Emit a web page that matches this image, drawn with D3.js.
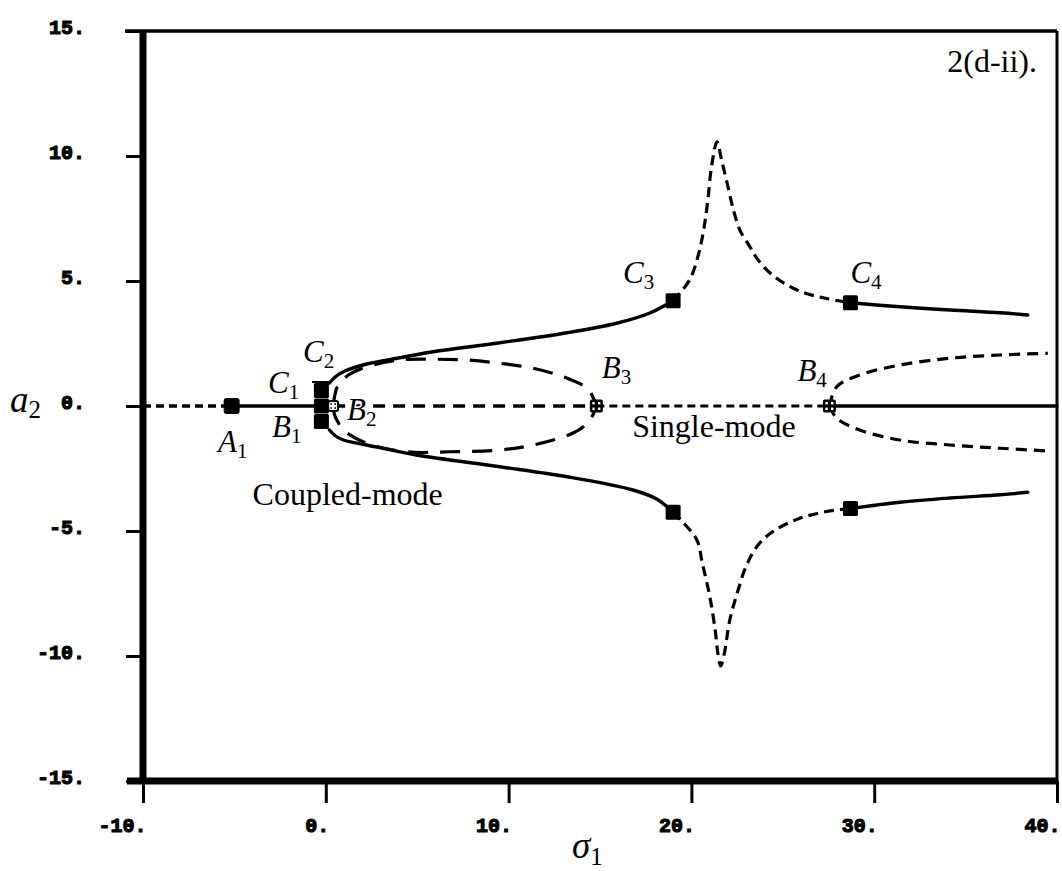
<!DOCTYPE html>
<html>
<head>
<meta charset="utf-8">
<script src="https://cdn.jsdelivr.net/npm/d3@7"></script>
<style>
  html, body { margin: 0; padding: 0; background: #fff; }
  svg { display: block; }
</style>
</head>
<body>
<svg id="chart" width="1062" height="871"></svg>
<script>
// ---- axis ticks ----
const sigmaTicks = [-10, 0, 10, 20, 30, 40];
const a2Ticks = [-15, -10, -5, 0, 5, 10, 15];

// ---- trivial branch a2 = 0, split at its bifurcation points [sigma1, a2] ----
const zeroLeftUnstable  = [[-10, 0], [-5.15, 0]];
const zeroStable        = [[-5.15, 0], [-0.24, 0]];
const zeroInnerUnstable = [[0.4, 0], [14.8, 0]];
const zeroOuterUnstable = [[14.8, 0], [27.55, 0]];
const zeroRightStable   = [[27.55, 0], [40, 0]];

// ---- coupled-mode branches ----
const upperStable = [[0.2, 0.92], [0.5, 1.15], [0.96, 1.37], [2.24, 1.68], [4.06, 1.93], [5.88, 2.17],
  [9.53, 2.53], [13.2, 2.93], [15.9, 3.31], [17.7, 3.71], [19.0, 4.21]];
const upperUnstable = [[19.0, 4.21], [19.9, 5.04], [20.4, 6.1], [20.7, 7.17], [20.9, 8.24], [21.1, 9.57],
  [21.4, 10.57], [21.65, 9.84], [22.0, 8.77], [22.3, 7.84], [22.65, 7.04], [23.2, 6.37], [23.65, 5.84],
  [24.5, 5.2], [25.9, 4.6], [27.4, 4.3], [28.7, 4.13]];
const upperRightStable = [[28.7, 4.13], [31.4, 3.97], [34.15, 3.84], [36.9, 3.73], [38.4, 3.64]];

const lowerStable = [[0.2, -0.96], [0.5, -1.18], [0.96, -1.36], [2.24, -1.56], [4.97, -1.96], [9.53, -2.43],
  [13.2, -2.83], [16.8, -3.36], [18.1, -3.72], [19.0, -4.25]];
const lowerUnstable = [[19.0, -4.25], [19.5, -4.62], [20.3, -5.36], [20.6, -6.3], [21.0, -7.6], [21.3, -8.96],
  [21.45, -9.9], [21.6, -10.4], [21.8, -9.9], [22.1, -8.56], [22.5, -7.5], [23.0, -6.4], [23.65, -5.56],
  [24.5, -5.0], [25.9, -4.5], [27.4, -4.22], [28.7, -4.1]];
const lowerRightStable = [[28.7, -4.1], [31.4, -3.85], [34.15, -3.68], [36.9, -3.55], [38.4, -3.45]];

// ---- single-mode loop between B2 and B3 ----
const loopUpper = [[0.4, 0], [0.5, 0.45], [0.65, 0.8], [1.2, 1.22], [2.24, 1.57], [4.06, 1.84], [5.88, 1.87],
  [7.7, 1.84], [9.5, 1.71], [11.35, 1.51], [13.2, 1.11], [14.3, 0.71], [14.65, 0.3], [14.8, 0]];
const loopLower = [[0.4, 0], [0.5, -0.4], [0.65, -0.62], [0.96, -0.96], [2.24, -1.49], [4.4, -1.83],
  [6.8, -1.83], [9.5, -1.76], [11.35, -1.56], [13.5, -1.09], [14.3, -0.69], [14.65, -0.3], [14.8, 0]];

// ---- branches born at B4 ----
const b4Upper = [[27.55, 0], [27.95, 0.77], [29.2, 1.24], [31.4, 1.64], [34.15, 1.91], [36.9, 2.04], [39.5, 2.11]];
const b4Lower = [[27.55, 0], [27.95, -0.49], [29.2, -0.96], [31.4, -1.36], [34.15, -1.56], [36.9, -1.69], [39.5, -1.8]];

// ---- special points ----
const jumpPoints = [[-5.15, 0]];                                   // A1
const saddleNodes = [[-0.24, 0.62], [-0.24, 0], [-0.24, -0.62],    // C1, B1, C2 cluster
  [19.0, 4.21], [19.0, -4.25], [28.7, 4.13], [28.7, -4.1]];          // C3, C4
const pitchforks = [[0.4, 0], [14.8, 0], [27.55, 0]];               // B2, B3, B4
const c2Bar = [[-0.75, 0.96], [0.25, 0.96]];

// ---- scales ----
const x = d3.scaleLinear().domain([-10, 40]).range([143, 1057]);
const y = d3.scaleLinear().domain([-15, 15]).range([781, 31]);

const svg = d3.select("#chart");
const line = d3.line()
  .x(d => x(d[0])).y(d => y(d[1]))
  .curve(d3.curveCatmullRom.alpha(0.5));

const tickFont = "'Liberation Mono', 'DejaVu Sans Mono', monospace";
const serif = "'Liberation Serif', 'DejaVu Serif', serif";

// ---- axes ----
const yAxis = d3.axisLeft(y).tickValues(a2Ticks).tickSize(17).tickSizeOuter(0)
  .tickPadding(41).tickFormat(d => d + ".");
const gy = svg.append("g").attr("transform", `translate(${x(-10)},0)`).call(yAxis);
gy.select(".domain").remove();
gy.selectAll(".tick line").attr("stroke", "#000").attr("stroke-width", 3);
gy.selectAll(".tick text")
  .attr("y", -4)
  .style("font-family", tickFont).style("font-weight", "bold").style("font-size", "20px")
  .attr("fill", "#000").attr("stroke", "#000").attr("stroke-width", 1.1);

const xAxis = d3.axisBottom(x).tickValues(sigmaTicks).tickSize(22).tickSizeOuter(0)
  .tickFormat(d => d + ".");
const gx = svg.append("g").attr("transform", `translate(0,${y(-15)})`).call(xAxis);
gx.select(".domain").remove();
gx.selectAll(".tick line").attr("stroke", "#000").attr("stroke-width", 3);
gx.selectAll(".tick text")
  .attr("y", 51).attr("dy", 0).attr("x", 3).attr("text-anchor", "end")
  .style("font-family", tickFont).style("font-weight", "bold").style("font-size", "20px")
  .attr("fill", "#000").attr("stroke", "#000").attr("stroke-width", 1.1);

// frame
const frame = svg.append("g").attr("stroke", "#000").attr("stroke-linecap", "butt");
frame.append("line").attr("x1", x(-10) - 18).attr("x2", x(40)).attr("y1", y(15)).attr("y2", y(15)).attr("stroke-width", 3.5);
frame.append("line").attr("x1", x(40)).attr("x2", x(40)).attr("y1", y(15)).attr("y2", y(-15)).attr("stroke-width", 3);
frame.append("line").attr("x1", x(-10)).attr("x2", x(-10)).attr("y1", y(15) - 1).attr("y2", y(-15) + 3).attr("stroke-width", 7);
frame.append("line").attr("x1", x(-10) - 16).attr("x2", x(40) + 1).attr("y1", y(-15)).attr("y2", y(-15)).attr("stroke-width", 7);

// ---- curves ----
const curves = svg.append("g").attr("fill", "none").attr("stroke", "#000").attr("stroke-linecap", "round");
const draw = (data, width, dash) => curves.append("path").datum(data).attr("d", line)
  .attr("stroke-width", width).attr("stroke-dasharray", dash || null)
  .attr("stroke-linecap", dash ? "butt" : "round");

draw(zeroLeftUnstable, 3.4, "8 5");
draw(zeroStable, 3.4);
draw(zeroInnerUnstable, 3.4, "12 8");
draw(zeroOuterUnstable, 3.2, "8 5");
draw(zeroRightStable, 3.4);
draw(loopUpper, 3.2, "20 12");
draw(loopLower, 3.2, "20 12");
draw(upperStable, 3.4);
draw(upperUnstable, 3.2, "10 6");
draw(upperRightStable, 3.4);
draw(lowerStable, 3.4);
draw(lowerUnstable, 3.2, "10 6");
draw(lowerRightStable, 3.4);
draw(b4Upper, 3.2, "11 7");
draw(b4Lower, 3.2, "11 7");
curves.append("path").datum(c2Bar).attr("d", d3.line().x(d => x(d[0])).y(d => y(d[1])))
  .attr("stroke-width", 2).attr("stroke-linecap", "butt");

// ---- markers ----
const marks = svg.append("g");
marks.selectAll("rect.jump").data(jumpPoints).join("rect").attr("class", "jump")
  .attr("x", d => x(d[0]) - 8).attr("y", d => y(d[1]) - 8).attr("width", 16).attr("height", 16)
  .attr("rx", 3).attr("fill", "#000");
marks.selectAll("rect.saddle").data(saddleNodes).join("rect").attr("class", "saddle")
  .attr("x", d => x(d[0]) - 7.5).attr("y", d => y(d[1]) - 7.5).attr("width", 15).attr("height", 15)
  .attr("rx", 1.5).attr("fill", "#000");
const pf = marks.selectAll("g.pitch").data(pitchforks).join("g").attr("class", "pitch")
  .attr("transform", d => `translate(${x(d[0])},${y(d[1])})`);
pf.append("rect").attr("x", (d, i) => i === 0 ? -5 : -6.5).attr("y", (d, i) => i === 0 ? -5 : -6.5)
  .attr("width", (d, i) => i === 0 ? 10 : 13).attr("height", (d, i) => i === 0 ? 10 : 13)
  .attr("rx", 2).attr("fill", (d, i) => i === 0 ? "#fff" : "#000")
  .attr("stroke", "#000").attr("stroke-width", (d, i) => i === 0 ? 2 : 0);
pf.each(function (d, i) {
  const g = d3.select(this);
  const o = i === 0 ? 2 : 2.8, s = i === 0 ? 1.6 : 2.4;
  [[-1, -1], [1, -1], [-1, 1], [1, 1]].forEach(([sx, sy]) => {
    g.append("rect").attr("x", sx * o - s / 2).attr("y", sy * o - s / 2)
      .attr("width", s).attr("height", s).attr("fill", i === 0 ? "#000" : "#fff");
  });
});

// ---- annotations ----
const ann = svg.append("g").style("font-family", serif).attr("fill", "#000")
  .attr("stroke", "#fff").attr("stroke-width", 3).attr("paint-order", "stroke")
  .attr("stroke-linejoin", "round");
function point(name, sub, s, a) {
  const t = ann.append("text").attr("x", x(s)).attr("y", y(a)).style("font-size", "31px");
  t.append("tspan").style("font-style", "italic").text(name);
  t.append("tspan").style("font-size", "21px").attr("dy", 6).text(sub);
}
point("A", "1", -5.9, -1.84);
point("B", "1", -2.94, -1.24);
point("C", "1", -3.16, 0.52);
point("C", "2", -1.25, 1.76);
point("B", "2", 1.16, -0.56);
point("B", "3", 15.1, 1.12);
point("B", "4", 25.8, 1.0);
point("C", "3", 16.26, 4.92);
point("C", "4", 28.7, 4.92);

ann.append("text").attr("x", x(16.76)).attr("y", y(-1.24)).style("font-size", "32px").text("Single-mode");
ann.append("text").attr("x", x(6.4)).attr("y", y(-3.95)).attr("text-anchor", "end")
  .style("font-size", "32px").text("Coupled-mode");
ann.append("text").attr("x", x(40) - 20).attr("y", y(15) + 41).attr("text-anchor", "end")
  .style("font-size", "32px").text("2(d-ii).");

// axis titles
const ty = svg.append("text").attr("x", 10).attr("y", y(0) + 6).style("font-family", serif).style("font-size", "37px");
ty.append("tspan").style("font-style", "italic").text("a");
ty.append("tspan").style("font-size", "25px").attr("dy", 6).text("2");
const tx = svg.append("text").attr("x", 572).attr("y", 858).style("font-family", serif).style("font-size", "37px");
tx.append("tspan").style("font-style", "italic").text("σ");
tx.append("tspan").style("font-size", "25px").attr("dy", 7).text("1");
</script>
</body>
</html>
